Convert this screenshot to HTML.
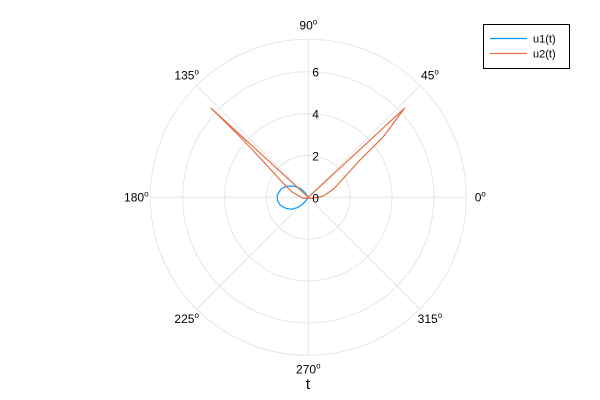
<!DOCTYPE html>
<html><head><meta charset="utf-8"><style>
html,body{margin:0;padding:0;background:#fff;}
svg{display:block;font-family:"Liberation Sans","DejaVu Sans",sans-serif;}
</style></head><body>
<svg id="chart" width="600" height="400" viewBox="0 0 600 400">
<g id="grid"></g>
<g id="series"></g>
<g id="labels"></g>
<text x="308" y="389" font-size="15" text-anchor="middle">t</text>
<g>
<rect x="483.5" y="24.5" width="86" height="44" fill="#fff" stroke="#000" stroke-width="1"/>
<line x1="490" y1="38.5" x2="527" y2="38.5" stroke="#009AFA" stroke-width="1.2"/>
<text x="533" y="42.5" font-size="11">u1(t)</text>
<line x1="490" y1="53.5" x2="527" y2="53.5" stroke="#E26F46" stroke-width="1.2"/>
<text x="533" y="57.5" font-size="11">u2(t)</text>
</g>
</svg>
<script>
const radialTicks = [0, 2, 4, 6];
const angleTicks = [0, 45, 90, 135, 180, 225, 270, 315];
const rMax = 7.55;
const u1Theta = [0, 125, 132.7, 142, 150.5, 162, 175.8, 186, 195.2, 206, 215.9, 223, 229.4, 234, 0];
const u1R = [0, 0.3, 0.59, 0.85, 1.1, 1.35, 1.49, 1.48, 1.40, 1.2, 0.98, 0.72, 0.49, 0.25, 0];
const u2Theta = [0, 42.8, 38.9, 35.8, 28.5, 17.7, 5, -11, 190, 161.4, 149.6, 141.9, 138.5, 137.5, 137.5];
const u2R = [0, 6.27, 4.61, 3.05, 1.91, 1.26, 0.72, 0.24, 0.26, 0.84, 1.47, 2.63, 4.26, 6.31, 0];

const cx = 308.3, cy = 197.3, R = 158;
const NS = 'http://www.w3.org/2000/svg';
function rScale(r){ return r / rMax * R; }
function px(t, r){ const a = t*Math.PI/180; return [cx + rScale(r)*Math.cos(a), cy - rScale(r)*Math.sin(a)]; }
function mk(tag, attrs, parent){ const e = document.createElementNS(NS, tag); for (const k in attrs) e.setAttribute(k, attrs[k]); parent.appendChild(e); return e; }

const grid = document.getElementById('grid');
const labels = document.getElementById('labels');
radialTicks.forEach(function(v){
  if (v > 0) {
    const c = mk('circle', {cx: cx, cy: cy, r: rScale(v), fill: 'none', stroke: '#e6e6e6', 'stroke-width': 1}, grid);
    
    
  }
  const t = mk('text', {x: cx + 4, y: cy - rScale(v) + 5, 'font-size': 12}, labels);
  t.textContent = String(v);
  
  
});
const outer = mk('circle', {cx: cx, cy: cy, r: R, fill: 'none', stroke: '#e6e6e6', 'stroke-width': 1}, grid);


angleTicks.forEach(function(a){
  const p = px(a, rMax);
  const l = mk('line', {x1: cx, y1: cy, x2: p[0], y2: p[1], stroke: '#e6e6e6', 'stroke-width': 1}, grid);
  
  
  const rad = a*Math.PI/180;
  const lx = cx + 172*Math.cos(rad), ly = cy - 172*Math.sin(rad) + 4;
  const t = mk('text', {x: lx, y: ly, 'font-size': 12, 'text-anchor': 'middle'}, labels);
  t.textContent = a;
  const s = mk('tspan', {'font-size': 8, dy: -5}, t);
  s.textContent = 'o';
  
  
});

const series = document.getElementById('series');
function drawSeries(th, rr, color, name){
  const d = th.map(function(t, i){ const p = px(t, rr[i]); return (i ? 'L' : 'M') + p[0].toFixed(2) + ',' + p[1].toFixed(2); }).join(' ');
  const path = mk('path', {d: d, fill: 'none', stroke: color, 'stroke-width': 1.2, 'stroke-linejoin': 'round'}, series);
  
  
}
drawSeries(u1Theta, u1R, '#009AFA', 'series-u1');
drawSeries(u2Theta, u2R, '#E26F46', 'series-u2');
</script>
</body></html>
